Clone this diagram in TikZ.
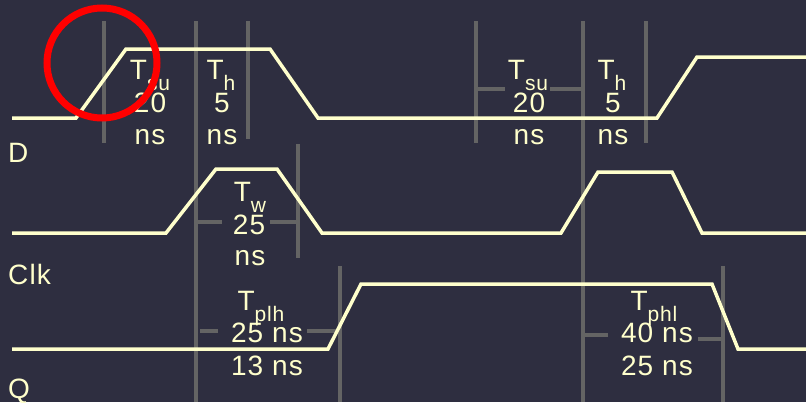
\documentclass[tikz,border=0pt]{standalone}
\usepackage{fontspec}
\setmainfont{Liberation Sans}[LetterSpace=4]
\definecolor{bgnavy}{RGB}{46,46,64}
\definecolor{wavecream}{RGB}{255,255,204}
\definecolor{markgrey}{RGB}{100,100,100}
\newcommand{\tsub}[1]{T\raisebox{-11pt}{\fontsize{21}{21}\selectfont #1}}

\begin{document}
\begin{tikzpicture}[x=1pt,y=-1pt,
  wave/.style={draw=wavecream,line width=3.5pt,line join=miter},
  timemark/.style={draw=markgrey,line width=3.5pt},
  lbl/.style={text=wavecream,inner sep=0pt,anchor=base,font=\fontsize{28}{32}\selectfont},
  sig/.style={text=wavecream,inner sep=0pt,anchor=base west,font=\fontsize{28}{32}\selectfont}]
\fill[bgnavy] (0,0) rectangle (806,402);
\useasboundingbox (0,0) rectangle (806,402);
% grey timing marks
\draw[timemark] (104,21) -- (104,143);
\draw[timemark] (196,21) -- (196,402);
\draw[timemark] (248,21) -- (248,139);
\draw[timemark] (476,21) -- (476,143);
\draw[timemark] (583,21) -- (583,402);
\draw[timemark] (646,21) -- (646,143);
\draw[timemark] (298,144) -- (298,258);
\draw[timemark] (340,266) -- (340,402);
\draw[timemark] (723,266) -- (723,402);
\draw[timemark] (476,89) -- (505,89);
\draw[timemark] (550,89) -- (583,89);
\draw[timemark] (196,222) -- (222,222);
\draw[timemark] (270,222) -- (298,222);
\draw[timemark] (200,331) -- (218,331);
\draw[timemark] (307,331) -- (340,331);
\draw[timemark] (583,335) -- (608,335);
\draw[timemark] (698,339) -- (723,339);
% waveforms
\draw[wave] (12,118) -- (76,118) -- (126,49) -- (270,49) -- (318,118) -- (657,118) -- (697,57) -- (810,57);
\draw[wave] (12,233) -- (166,233) -- (216,169) -- (277,169) -- (322,233) -- (561,233) -- (598,172) -- (672,172) -- (702,233) -- (810,233);
\draw[wave] (12,349) -- (328,349) -- (361,284) -- (712,284) -- (738,349) -- (810,349);
% signal names
\node[sig] (dname) at (8,162) {D};
\node[sig] (clkname) at (8,284) {Clk};
\node[sig] (qname) at (8,398) {Q};
% setup and hold, first edge
\node[lbl] (su1t) at (150,79) {\tsub{su}};
\node[lbl] (su1v) at (150,112) {20};
\node[lbl] (su1u) at (150,144) {ns};
\node[lbl] (h1t) at (221,79) {\tsub{h}};
\node[lbl] (h1v) at (222,112) {5};
\node[lbl] (h1u) at (222,144) {ns};
% setup and hold, second edge
\node[lbl] (su2t) at (528,79) {\tsub{su}};
\node[lbl] (su2v) at (529,112) {20};
\node[lbl] (su2u) at (529,144) {ns};
\node[lbl] (h2t) at (612,79) {\tsub{h}};
\node[lbl] (h2v) at (613,112) {5};
\node[lbl] (h2u) at (613,144) {ns};
% pulse width
\node[lbl] (wt) at (250,201) {\tsub{w}};
\node[lbl] (wv) at (249,234) {25};
\node[lbl] (wu) at (250,265) {ns};
% propagation
\node[lbl] (plht) at (261,310) {\tsub{plh}};
\node[lbl] (plhmax) at (267,342) {25 ns};
\node[lbl] (plhmin) at (267,375) {13 ns};
\node[lbl] (phlt) at (654,310) {\tsub{phl}};
\node[lbl] (phlmax) at (657,342) {40 ns};
\node[lbl] (phlmin) at (657,375) {25 ns};
% highlight
\node[draw=red,line width=7pt,circle,minimum size=110pt,inner sep=0pt] (ring) at (102,63) {};
\end{tikzpicture}
\end{document}
